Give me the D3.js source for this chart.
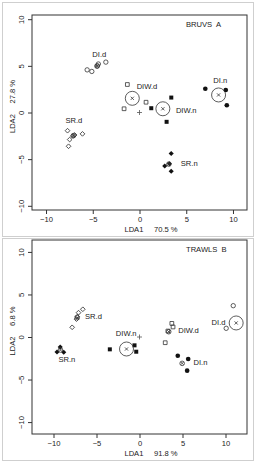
<!DOCTYPE html>
<html>
<head>
<meta charset="utf-8">
<script src="https://cdn.jsdelivr.net/npm/d3@7"></script>
<style>
  body { margin: 0; background: #fff; }
  text { font-family: "Liberation Sans", Arial, sans-serif; fill: #1a1a1a; }
</style>
</head>
<body>
<script>
// ---- data (LDA scores) ----
var bruvsPoints = [
  ["DI.d", -5.6, 4.57], ["DI.d", -5.1, 4.4], ["DI.d", -4.5, 5.0], ["DI.d", -4.4, 5.2], ["DI.d", -3.6, 5.4],
  ["DIW.d", -1.3, 3.0], ["DIW.d", -1.65, 0.4], ["DIW.d", 0.7, 1.1],
  ["DIW.n", 1.26, 0.46], ["DIW.n", 3.4, 1.6], ["DIW.n", 2.9, -1.0],
  ["DI.n", 7.04, 2.55], ["DI.n", 9.23, 2.41], ["DI.n", 9.34, 0.78],
  ["SR.d", -7.7, -1.95], ["SR.d", -7.47, -2.9], ["SR.d", -7.13, -2.52], ["SR.d", -6.94, -2.41], ["SR.d", -6.1, -2.29], ["SR.d", -7.59, -3.62],
  ["SR.n", 3.39, -4.4], ["SR.n", 2.7, -5.74], ["SR.n", 3.2, -5.5], ["SR.n", 3.39, -6.3]
];
var bruvsCentroids = [
  ["DI.d", -4.55, 4.97], ["SR.d", -7.07, -2.48], ["SR.n", 3.14, -5.53],
  ["DIW.d", -0.77, 1.52], ["DIW.n", 2.5, 0.4], ["DI.n", 8.46, 1.88]
];
var bruvsCircled = ["DIW.d", "DIW.n", "DI.n"];
var bruvsLabels = [
  ["DI.d", -4.3, 6.28], ["DIW.d", 0.8, 2.77], ["DIW.n", 5.0, 0.27],
  ["DI.n", 8.64, 3.4], ["SR.d", -7.02, -0.85], ["SR.n", 5.32, -5.43]
];

var trawlPoints = [
  ["SR.d", -7.83, 1.14], ["SR.d", -7.33, 2.1], ["SR.d", -7.24, 2.4], ["SR.d", -7.09, 2.86], ["SR.d", -6.59, 3.26],
  ["SR.n", -9.22, -1.18], ["SR.n", -9.59, -1.76], ["SR.n", -8.81, -1.8],
  ["DIW.n", -3.45, -1.45], ["DIW.n", -0.58, -0.98], ["DIW.n", -0.38, -1.73],
  ["DIW.d", 3.76, 1.6], ["DIW.d", 3.9, 1.18], ["DIW.d", 3.3, 0.7], ["DIW.d", 2.99, -0.67],
  ["DI.d", 10.9, 3.68], ["DI.d", 10.08, 1.02],
  ["DI.n", 4.45, -2.2], ["DI.n", 5.66, -2.59], ["DI.n", 5.54, -3.96]
];
var trawlCentroids = [
  ["SR.d", -7.24, 2.27], ["SR.n", -9.19, -1.53], ["DIW.n", -1.51, -1.41],
  ["DIW.d", 3.4, 0.62], ["DI.d", 11.24, 1.65], ["DI.n", 4.96, -3.1]
];
var trawlCircled = ["DIW.n", "DI.d"];
var trawlLabels = [
  ["SR.d", -5.35, 2.47], ["SR.n", -8.45, -2.62], ["DIW.n", -1.55, 0.44],
  ["DIW.d", 5.7, 0.74], ["DI.d", 9.19, 1.73], ["DI.n", 7.09, -3.02]
];

var xTicks = [-10, -5, 0, 5, 10];
var yTicks = [-10, -5, 0, 5, 10];

var fontSize = "7.6px";

var svg = d3.select("body").append("svg")
  .attr("width", 257)
  .attr("height", 466);

// symbol style per group
var shapes = {
  "DI.d":  { type: d3.symbolCircle, size: 15, filled: false, rot: 0 },
  "DI.n":  { type: d3.symbolCircle, size: 17, filled: true, rot: 0 },
  "DIW.d": { type: d3.symbolSquare, size: 14, filled: false, rot: 0 },
  "DIW.n": { type: d3.symbolSquare, size: 16, filled: true, rot: 0 },
  "SR.d":  { type: d3.symbolSquare, size: 11, filled: false, rot: 45 },
  "SR.n":  { type: d3.symbolSquare, size: 13, filled: true, rot: 45 }
};

function minusFmt(d) { return d < 0 ? "\u2212" + Math.abs(d) : d; }

function drawPanel(p) {
  var x = d3.scaleLinear().domain(p.xDomain).range([32, 247]);
  var y = d3.scaleLinear().domain(p.yDomain).range([p.bottom, p.top]);

  // outer light frame
  svg.append("rect")
    .attr("x", 2.5).attr("y", p.frameTop + 0.5)
    .attr("width", 251).attr("height", p.frameH)
    .attr("fill", "none").attr("stroke", "#cfcfcf");

  var g = svg.append("g");

  var xAxis = d3.axisBottom(x).tickValues(xTicks).tickSize(4).tickPadding(3).tickFormat(minusFmt);
  var gx = g.append("g")
    .attr("transform", "translate(0," + p.bottom + ")")
    .call(xAxis);
  gx.select(".domain").remove();
  gx.selectAll("line").attr("stroke", "#333");
  gx.selectAll("text").style("font-size", fontSize).attr("fill", "#1a1a1a");

  var yAxis = d3.axisLeft(y).tickValues(yTicks).tickSize(4).tickFormat(minusFmt);
  var gy = g.append("g")
    .attr("transform", "translate(32,0)")
    .call(yAxis);
  gy.select(".domain").remove();
  gy.selectAll("line").attr("stroke", "#333");
  gy.selectAll("text")
    .attr("transform", "rotate(-90)")
    .attr("x", 0).attr("y", -11).attr("dy", "0.35em")
    .style("text-anchor", "middle")
    .style("font-size", fontSize).attr("fill", "#1a1a1a");

  // plot box
  g.append("rect")
    .attr("x", 32).attr("y", p.top)
    .attr("width", 215).attr("height", p.bottom - p.top)
    .attr("fill", "none").attr("stroke", "#333").attr("stroke-width", 1);

  // axis titles
  g.append("text")
    .attr("x", 151).attr("y", p.bottom + 19).attr("dy", "0.35em")
    .attr("text-anchor", "middle")
    .style("font-size", fontSize).style("white-space", "pre")
    .text("LDA1     " + p.xPct);
  g.append("text")
    .attr("transform", "translate(12," + ((p.top + p.bottom) / 2 - 6) + ") rotate(-90)")
    .attr("text-anchor", "middle").attr("dy", "0.35em")
    .style("font-size", fontSize).style("white-space", "pre")
    .text("LDA2     " + p.yPct);

  // panel title
  g.append("text")
    .attr("x", 186).attr("y", p.top + 9).attr("dy", "0.35em")
    .style("font-size", fontSize).style("white-space", "pre")
    .text(p.title + "  " + p.letter);

  // origin marker
  g.append("path")
    .attr("d", "M-2.5,0H2.5M0,-2.5V2.5")
    .attr("stroke", "#555").attr("stroke-width", 0.8)
    .attr("transform", "translate(" + x(0) + "," + y(0) + ")");

  // points
  g.selectAll(".pt")
    .data(p.points)
    .enter().append("path")
      .attr("class", "pt")
      .attr("d", function(d) { var s = shapes[d[0]]; return d3.symbol().type(s.type).size(s.size)(); })
      .attr("transform", function(d) {
        return "translate(" + x(d[1]) + "," + y(d[2]) + ") rotate(" + shapes[d[0]].rot + ")";
      })
      .attr("fill", function(d) { return shapes[d[0]].filled ? "#111" : "none"; })
      .attr("stroke", function(d) { return shapes[d[0]].filled ? "none" : "#333"; })
      .attr("stroke-width", 0.8);

  // centroids
  var cg = g.selectAll(".cen")
    .data(p.centroids)
    .enter().append("g")
      .attr("class", "cen")
      .attr("transform", function(d) { return "translate(" + x(d[1]) + "," + y(d[2]) + ")"; });
  cg.append("circle")
    .attr("r", function(d) { return p.circled.indexOf(d[0]) >= 0 ? 7 : 2.3; })
    .attr("fill", "none").attr("stroke", "#333").attr("stroke-width", 0.8);
  cg.append("path")
    .attr("d", function(d) {
      var h = p.circled.indexOf(d[0]) >= 0 ? 1.6 : 1.4;
      return "M" + (-h) + "," + (-h) + "L" + h + "," + h + "M" + (-h) + "," + h + "L" + h + "," + (-h);
    })
    .attr("stroke", "#333").attr("stroke-width", 0.8);

  // group labels
  g.selectAll(".lab")
    .data(p.labels)
    .enter().append("text")
      .attr("class", "lab")
      .attr("x", function(d) { return x(d[1]); })
      .attr("y", function(d) { return y(d[2]); })
      .attr("dy", "0.35em")
      .attr("text-anchor", "middle")
      .style("font-size", fontSize)
      .text(function(d) { return d[0]; });
}

drawPanel({
  xDomain: [-11.5, 11.5], yDomain: [-10.45, 10.45], top: 15, bottom: 210,
  frameTop: 2, frameH: 234,
  points: bruvsPoints, centroids: bruvsCentroids, circled: bruvsCircled, labels: bruvsLabels,
  xPct: "70.5 %", yPct: "27.8 %", title: "BRUVS", letter: "A"
});

drawPanel({
  xDomain: [-12.5, 12.5], yDomain: [-11.4, 11.4], top: 240, bottom: 434,
  frameTop: 238, frameH: 222,
  points: trawlPoints, centroids: trawlCentroids, circled: trawlCircled, labels: trawlLabels,
  xPct: "91.8 %", yPct: "6.8 %", title: "TRAWLS", letter: "B"
});
</script>
</body>
</html>
